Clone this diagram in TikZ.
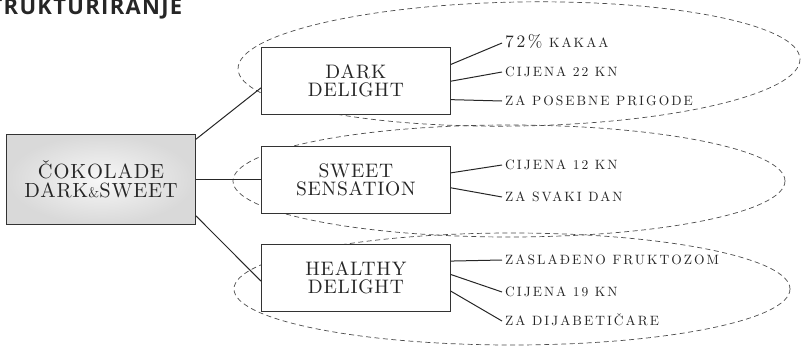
\documentclass[tikz,border=0pt]{standalone}
\usepackage{fontspec}
\setmainfont{lmroman10-regular.otf}[
  BoldFont=lmroman10-bold.otf,
  ItalicFont=lmroman10-italic.otf,
  BoldItalicFont=lmroman10-bolditalic.otf,
  SmallCapsFont=lmromancaps10-regular.otf]
\newfontfamily\titlefont{Open Sans}
\newcommand{\bignum}[1]{{\fontsize{17.5}{17.5}\selectfont #1}}

\begin{document}
\begin{tikzpicture}[x=1pt,y=-1pt]
    \tikzstyle{block} = [draw=black!80, line width=0.8pt, fill=white, rectangle, text width=175pt, align=center, inner sep=7pt, minimum height=67pt, text=black!85, font={\fontsize{19.5}{18}\selectfont\addfontfeature{LetterSpace=4}}];
    \tikzstyle{mainblock} = [block, minimum height=90pt, inner color=gray!6, outer color=gray!30, font={\fontsize{20.5}{19}\selectfont\addfontfeature{LetterSpace=4}}];
    \tikzstyle{item} = [anchor=west, inner xsep=3pt, inner ysep=0pt, text height=9pt, text depth=0pt, text=black!85, font={\fontsize{13.5}{13.5}\selectfont\addfontfeature{LetterSpace=15}}];
    \tikzstyle{ring} = [draw=black!70, line width=0.7pt, dash pattern=on 5pt off 3.5pt];
    \tikzstyle{line} = [draw, line width=1pt, black!85];
    \useasboundingbox (0,0) rectangle (801,348);
    \clip (0,0) rectangle (801,348);
    % title runs off the left edge
    \node[anchor=base west, inner sep=0pt, text=black!85, font={\titlefont\bfseries\fontsize{22}{22}\selectfont\addfontfeature{LetterSpace=6}}] (title) at (-24,14) {STRUKTURIRANJE};
    % dashed groups behind the boxes
    \path[ring, rotate around={1:(519,64)}] (519,64) ellipse (281 and 62);
    \path[ring] (509,181) ellipse (276 and 56);
    \path[ring] (512,289) ellipse (278 and 56);
    \matrix[column sep=65pt, row sep=19pt] at (228.5,179.5)
    {
        & \node[block] (dark) {DARK\\DELIGHT}; \\
        \node[mainblock] (choc) {ČOKOLADE\\DARK{\fontsize{14}{14}\selectfont\&}SWEET}; &
        \node[block] (sweet) {SWEET\\SENSATION}; \\
        & \node[block] (healthy) {HEALTHY\\DELIGHT}; \\
    };
    \node[item] (d1) at (502,43) {\bignum{72\%} KAKAA};
    \node[item] (d2) at (502,72) {CIJENA 22 KN};
    \node[item] (d3) at (502,101) {ZA POSEBNE PRIGODE};
    \node[item] (s1) at (502,165) {CIJENA 12 KN};
    \node[item] (s2) at (502,197) {ZA SVAKI DAN};
    \node[item] (h1) at (502,260) {ZASLAĐENO FRUKTOZOM};
    \node[item] (h2) at (502,292) {CIJENA 19 KN};
    \node[item] (h3) at (502,321) {ZA DIJABETIČARE};
    \tikzstyle{every path}=[line]
    \path (choc.23) -- (dark.184);
    \path (choc.east) -- (sweet.west);
    \path (choc.-21) -- (healthy.182);
    \path (dark.10) -- (d1.west);
    \path (dark.east) -- (d2.west);
    \path (dark.-11) -- (d3.west);
    \path (sweet.4) -- (s1.west);
    \path (sweet.-5) -- (s2.west);
    \path (healthy.10) -- (h1.west);
    \path (healthy.2) -- (h2.west);
    \path (healthy.-8) -- (h3.west);
\end{tikzpicture}
\end{document}
